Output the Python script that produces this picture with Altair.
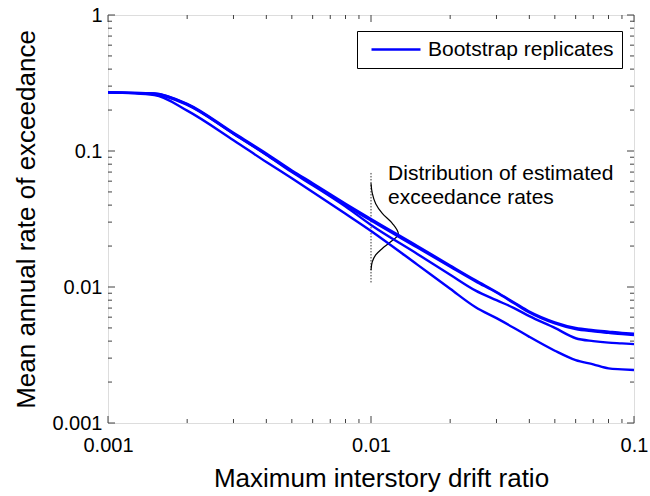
import altair as alt
import pandas as pd

# ---- data ----
drift = [0.001, 0.0015, 0.002, 0.003, 0.004, 0.005, 0.006, 0.008, 0.01, 0.015,
         0.02, 0.025, 0.03, 0.035, 0.04, 0.05, 0.06, 0.07, 0.08, 0.09, 0.1]
rep_a = [0.27, 0.265, 0.222, 0.136, 0.096, 0.072, 0.058, 0.041, 0.0316, 0.020,
         0.0144, 0.0112, 0.0092, 0.0077, 0.0066, 0.0055, 0.0050, 0.00482, 0.0047, 0.0046, 0.00453]
rep_b = [0.27, 0.262, 0.218, 0.134, 0.094, 0.071, 0.057, 0.040, 0.0308, 0.0195,
         0.0141, 0.0110, 0.0091, 0.0076, 0.0065, 0.0054, 0.0049, 0.00472, 0.0046, 0.0045, 0.00443]
rep_c = [0.27, 0.265, 0.220, 0.134, 0.094, 0.070, 0.056, 0.039, 0.0286, 0.0175,
         0.0123, 0.0094, 0.0080, 0.0070, 0.0061, 0.0050, 0.0042, 0.0040, 0.0039, 0.00385, 0.0038]
rep_d = [0.27, 0.258, 0.198, 0.120, 0.083, 0.063, 0.050, 0.0345, 0.0258, 0.0146,
         0.0097, 0.0071, 0.0059, 0.0050, 0.0043, 0.0034, 0.0029, 0.0027, 0.00252, 0.00248, 0.00245]

dist_x = [0.0100, 0.01011, 0.01042, 0.01104, 0.01205, 0.0127, 0.01188, 0.01104, 0.01042, 0.01011, 0.0100]
dist_y = [0.058, 0.049, 0.041, 0.0348, 0.0294, 0.0245, 0.0215, 0.0192, 0.0172, 0.0153, 0.0133]

marker_x = [0.01]
marker_y = [0.0108, 0.070]

note_lines = ["Distribution of estimated", "exceedance rates"]
note_x = [0.01161, 0.01161]
note_y = [0.0678, 0.0451]

legend_label = "Bootstrap replicates"

x_major = [0.001, 0.01, 0.1]
x_minor = [0.002, 0.003, 0.004, 0.005, 0.006, 0.007, 0.008, 0.009,
           0.02, 0.03, 0.04, 0.05, 0.06, 0.07, 0.08, 0.09]
y_major = [0.001, 0.01, 0.1, 1]
y_minor = [0.002, 0.003, 0.004, 0.005, 0.006, 0.007, 0.008, 0.009,
           0.02, 0.03, 0.04, 0.05, 0.06, 0.07, 0.08, 0.09,
           0.2, 0.3, 0.4, 0.5, 0.6, 0.7, 0.8, 0.9]

# ---- tables ----
rows = []
for name, vals in zip(["a", "b", "c", "d"], [rep_a, rep_b, rep_c, rep_d]):
    for i, (x, y) in enumerate(zip(drift, vals)):
        rows.append({"x": x, "y": y, "rep": name, "i": i, "label": legend_label})
reps = pd.DataFrame(rows)
dist = pd.DataFrame({"x": dist_x, "y": dist_y, "i": list(range(len(dist_x)))})
marker = pd.DataFrame({"x": marker_x, "y": [marker_y[0]], "y2": [marker_y[1]]})
notes = pd.DataFrame({"x": note_x, "y": note_y, "t": note_lines})

W, H = 526, 408
FONT = "Liberation Sans"
xs = alt.Scale(type="log", domain=[0.001, 0.1], nice=False)
ys = alt.Scale(type="log", domain=[0.001, 1], nice=False)
x_axis = alt.Axis(values=x_major, format="~g", title="Maximum interstory drift ratio",
                  labelFontSize=20, titleFontSize=26, labelPadding=12, titlePadding=10,
                  titleX=W / 2 + 10,
                  titleFontWeight="normal", labelFont=FONT, titleFont=FONT,
                  labelColor="black", titleColor="black",
                  ticks=False, domain=False, grid=False, labelFlush=False)
y_axis = alt.Axis(values=y_major, format="~g", title="Mean annual rate of exceedance",
                  labelFontSize=20, titleFontSize=26, labelPadding=6, titlePadding=12,
                  titleFontWeight="normal", labelFont=FONT, titleFont=FONT,
                  labelColor="black", titleColor="black",
                  ticks=False, domain=False, grid=False, labelFlush=False)

def X(field):
    return alt.X(field, scale=xs, axis=x_axis)

def Y(field):
    return alt.Y(field, scale=ys, axis=y_axis)

lines = alt.Chart(reps).mark_line(strokeWidth=2.4, clip=True, interpolate="monotone").encode(
    x=X("x:Q"),
    y=Y("y:Q"),
    detail="rep:N",
    order="i:Q",
    color=alt.Color("label:N",
                    scale=alt.Scale(range=["#0000ff"]),
                    legend=alt.Legend(title=None, orient="none", legendX=249, legendY=16,
                                      strokeColor="black", fillColor="white", padding=8,
                                      symbolType="stroke", symbolSize=2400, clipHeight=21,
                                      symbolOffset=5, symbolStrokeWidth=2.5,
                                      labelFontSize=21, labelLimit=0,
                                      labelFont=FONT, labelOffset=6, labelColor="black")),
)

def tick_layer(vals, axis_side, length):
    df = pd.DataFrame({"v": vals})
    base = alt.Chart(df).mark_rule(color="#404040", strokeWidth=1)
    if axis_side == "bottom":
        return base.encode(x=X("v:Q"), y=alt.value(H), y2=alt.value(H - length))
    if axis_side == "top":
        return base.encode(x=X("v:Q"), y=alt.value(0), y2=alt.value(length))
    if axis_side == "left":
        return base.encode(y=Y("v:Q"), x=alt.value(0), x2=alt.value(length))
    return base.encode(y=Y("v:Q"), x=alt.value(W), x2=alt.value(W - length))

ticks = []
for side in ["bottom", "top"]:
    ticks.append(tick_layer(x_major, side, 7))
    ticks.append(tick_layer(x_minor, side, 4))
for side in ["left", "right"]:
    ticks.append(tick_layer(y_major, side, 7))
    ticks.append(tick_layer(y_minor, side, 4))

marker_rule = alt.Chart(marker).mark_rule(color="#333333", strokeWidth=1, strokeDash=[1.5, 1.5]).encode(
    x=X("x:Q"),
    y=Y("y:Q"),
    y2="y2:Q",
)

dist_curve = alt.Chart(dist).mark_line(color="black", strokeWidth=1.2, interpolate="catmull-rom").encode(
    x=X("x:Q"),
    y=Y("y:Q"),
    order="i:Q",
)

note_text = alt.Chart(notes).mark_text(align="left", baseline="middle", fontSize=21,
                                       font=FONT, color="black").encode(
    x=X("x:Q"),
    y=Y("y:Q"),
    text="t:N",
)

chart = alt.layer(*ticks, marker_rule, dist_curve, lines, note_text).properties(
    width=W, height=H,
    padding={"left": 108, "top": 15, "right": 16, "bottom": 73},
    autosize=alt.AutoSizeParams(type="none"),
).configure_view(
    stroke="#404040", strokeWidth=1.2
).configure(background="white")

chart.save("out.html", embed_options={"renderer": "svg", "actions": False})
